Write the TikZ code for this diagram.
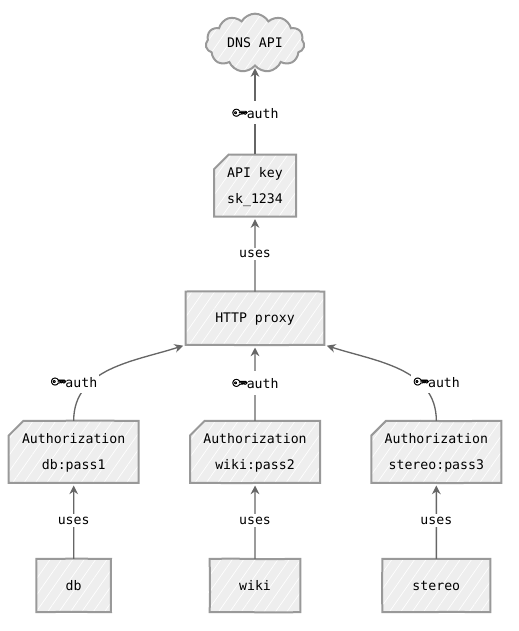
\documentclass[tikz,border=0pt]{standalone}
\usepackage{fontspec}
\setmonofont{DejaVu Sans Mono}
\newfontfamily\emojifont[RawFeature={embolden=4}]{Noto Emoji}
\usetikzlibrary{positioning,arrows.meta}
\usetikzlibrary{shapes.misc,shapes.symbols}
\usetikzlibrary{patterns.meta,decorations.pathmorphing}
\definecolor{boxfill}{HTML}{EEEEEE}
\definecolor{boxline}{HTML}{999999}
\definecolor{linkline}{HTML}{666666}
\newcommand{\keyicon}{\makebox[11.5pt][l]{\hspace{-1pt}\raisebox{1.1ex}{\reflectbox{\rotatebox{-45}{\emojifont\fontsize{8.5}{8.5}\selectfont 🔑}}}}}
\tikzset{
    >={Stealth[length=6.5pt,width=6.5pt]},
    sketch/.style={
        draw=boxline,
        line width=1.5pt,
        preaction={fill=boxfill},
        pattern={Lines[angle=55,distance=7pt,line width=0.5pt]},
        pattern color=white,
        align=center,
        inner sep=0pt,
        outer sep=0pt
    },
    rough/.style={
        decorate,
        decoration={random steps,segment length=25pt,amplitude=0.3pt}
    },
    plainbox/.style={
        sketch,
        rough,
        rectangle,
        text height=7pt,
        text depth=0pt,
        minimum height=40pt
    },
    tokenbox/.style={
        sketch,
        rough,
        chamfered rectangle,
        chamfered rectangle corners=north west,
        chamfered rectangle xsep=5pt,
        chamfered rectangle ysep=6pt,
        text depth=0pt,
        minimum height=46.5pt
    },
    link/.style={
        ->,
        draw=linkline,
        line width=1pt,
        shorten >=2pt
    },
    linklabel/.style={
        fill=white,
        inner xsep=1pt,
        inner ysep=2pt,
        text=black
    }
}

\begin{document}
\begin{tikzpicture}[
    x=0.75pt,
    y=-0.75pt,
    node distance=57pt and 38.5pt,
    font=\ttfamily\fontsize{9.9}{19.5}\selectfont
]
\useasboundingbox (0,0) rectangle (518,631);

% Upstream service
\node[sketch, cloud, cloud puffs=11, cloud puff arc=120, aspect=1.7,
    minimum width=74pt, minimum height=44pt] (dns) at (255,43) {DNS API};

% API key and proxy
\node[tokenbox, below=66.75pt of dns, minimum width=61.5pt] (apikey) {API key\\sk\_1234};
\node[plainbox, below=56.25pt of apikey, minimum width=104pt] (proxy) {HTTP proxy};

% Credentials
\node[tokenbox, below=of proxy, minimum width=97.5pt] (authwiki) {Authorization\\wiki:pass2};
\node[tokenbox, left=of authwiki, minimum width=97.5pt] (authdb) {Authorization\\db:pass1};
\node[tokenbox, right=of authwiki, minimum width=97.5pt] (authstereo) {Authorization\\stereo:pass3};

% Clients
\node[plainbox, below=of authdb, minimum width=56pt] (db) {db};
\node[plainbox, below=of authwiki, minimum width=68pt] (wiki) {wiki};
\node[plainbox, below=of authstereo, minimum width=81pt] (stereo) {stereo};

% Proxy to upstream
\draw[link] (apikey) -- node[linklabel, pos=0.47] {\keyicon auth} (dns);
\draw[link] (proxy) -- node[linklabel] {uses} (apikey);

% Credentials to proxy
\draw[link] (authdb.north) to[out=90, in=198] node[linklabel, pos=0.3, xshift=-11pt, yshift=2pt] {\keyicon auth} (proxy.south west);
\draw[link] (authwiki) -- node[linklabel, pos=0.5] {\keyicon auth} (proxy);
\draw[link] (authstereo.north) to[out=90, in=-18] node[linklabel, pos=0.3, xshift=11pt, yshift=2pt] {\keyicon auth} (proxy.south east);

% Clients to credentials
\draw[link] (db) -- node[linklabel] {uses} (authdb);
\draw[link] (wiki) -- node[linklabel] {uses} (authwiki);
\draw[link] (stereo) -- node[linklabel] {uses} (authstereo);

\end{tikzpicture}
\end{document}
